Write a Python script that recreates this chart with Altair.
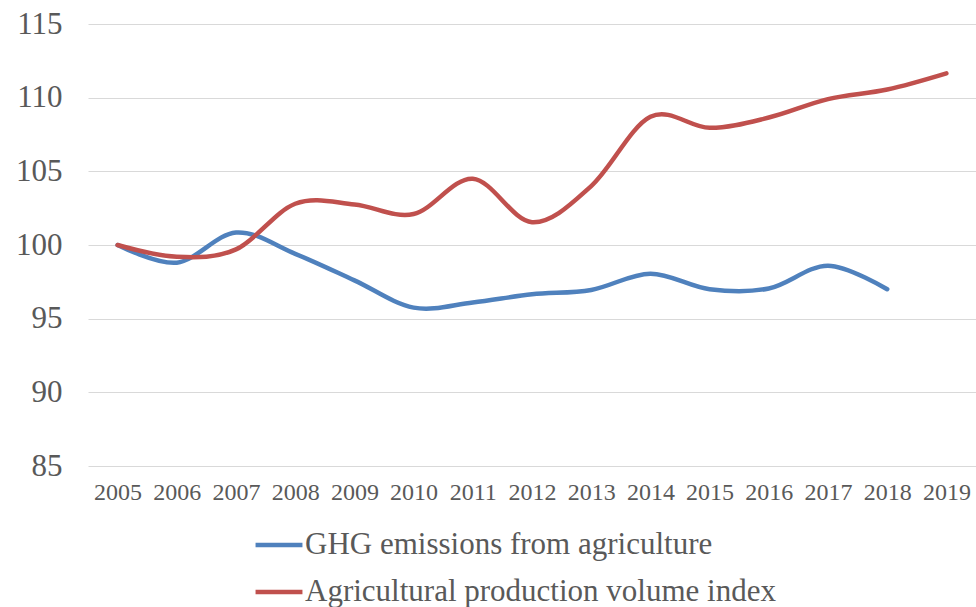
import altair as alt
import pandas as pd

years = [str(y) for y in range(2005, 2020)]
ghg = [100.0, 98.8, 100.85, 99.4, 97.6, 95.75, 96.1, 96.65, 96.95, 98.05, 97.0, 97.05, 98.6, 97.0]
prod = [100.0, 99.2, 99.7, 102.8, 102.75, 102.1, 104.5, 101.55, 104.0, 108.7, 107.95, 108.65, 109.9, 110.55, 111.65]

s1 = "GHG emissions from agriculture"
s2 = "Agricultural production volume index"

rows = []
for y, v in zip(years, ghg):
    rows.append({"year": y, "value": v, "series": s1})
for y, v in zip(years, prod):
    rows.append({"year": y, "value": v, "series": s2})
df = pd.DataFrame(rows)

font = "Liberation Serif"

chart = alt.Chart(df).mark_line(
    interpolate="cardinal", strokeWidth=4.5, strokeCap="round"
).encode(
    x=alt.X("year:O", scale=alt.Scale(type="point", padding=0.5),
            axis=alt.Axis(title=None, labelAngle=0, domain=False, ticks=False,
                          labelPadding=14, labelFont=font, labelFontSize=24,
                          labelColor="#595959", grid=False)),
    y=alt.Y("value:Q", scale=alt.Scale(domain=[85, 115], nice=False, zero=False),
            axis=alt.Axis(title=None, values=list(range(85, 120, 5)), domain=False,
                          ticks=False, labelPadding=26, labelFont=font,
                          labelFontSize=31, labelColor="#595959",
                          gridColor="#d9d9d9", gridWidth=1.2)),
    color=alt.Color("series:N",
                    scale=alt.Scale(domain=[s1, s2], range=["#4f81bd", "#c0504d"]),
                    legend=alt.Legend(title=None, orient="none", legendX=165, legendY=495,
                                      direction="vertical", symbolType="stroke",
                                      symbolSize=2200, symbolStrokeWidth=4.5,
                                      labelFont=font, labelFontSize=31,
                                      labelColor="#595959", labelOffset=0,
                                      rowPadding=6, labelLimit=800)),
    order=alt.Order("year:O"),
).properties(
    width=888, height=442,
    autosize=alt.AutoSizeParams(type="none"),
    padding={"left": 88, "top": 24, "right": 0, "bottom": 141},
    view=alt.ViewBackground(stroke="transparent", strokeOpacity=0),
).configure(background="white").configure_view(stroke="transparent", strokeOpacity=0)

chart.save("out.html", embed_options={"renderer": "svg", "actions": False})
